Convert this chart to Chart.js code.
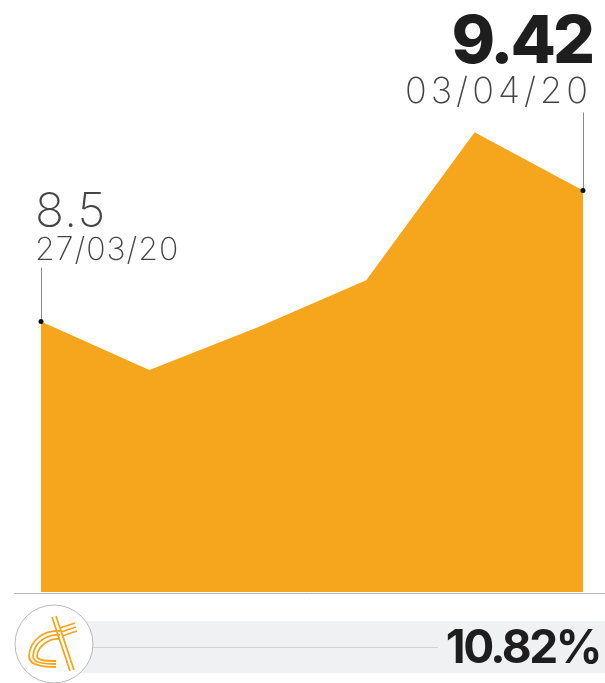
<!DOCTYPE html>
<html lang="en">
<head>
    <meta charset="UTF-8">
    <title>Price Chart</title>
    <script src="https://cdn.jsdelivr.net/npm/chart.js"></script>
    <style>
        body { margin: 0; background: #fff; overflow: hidden; }
        #wrap { position: relative; width: 605px; height: 683px; overflow: hidden; }
        #footer { position: absolute; left: 0; top: 600px; width: 605px; height: 83px; }
        #band { position: absolute; left: 80px; top: 21px; width: 525px; height: 52px; background: #f0f1f3; }
        #rule { position: absolute; left: 90px; top: 47px; width: 348px; height: 1px; background: #d2d3d5; }
        #change { position: absolute; right: 5px; top: 23px; font: 700 46px/46px Inter, "DejaVu Sans", sans-serif; color: #1e1e1e; letter-spacing: -2.5px; }
        #logo { position: absolute; left: 14px; top: 4px; }
    </style>
</head>
<body>
<div id="wrap">
    <canvas id="priceChart"></canvas>
    <div id="footer">
        <div id="band"></div>
        <div id="rule"></div>
        <svg id="logo" width="82" height="82" viewBox="0 0 82 82">
            <circle cx="40" cy="40" r="39" fill="#fff" stroke="#b8b8b8" stroke-width="1"/>
            <g fill="none" stroke="#f6a61d" stroke-width="1.8">
                <path d="M46 27 C30 26 16 36 15 52 C15 60 24 63 42 63"/>
                <path d="M46 31 C33 30 20 38 19 52 C19 58 26 60 42 60"/>
                <path d="M46 35 C36 34 24 41 23 52 C23 56 29 57 42 57"/>
                <path d="M38 13 L56 67"/>
                <path d="M42 12 L60 66"/>
                <path d="M46 24 L61 19"/>
                <path d="M47 28 L62 23"/>
                <path d="M48 32 L63 27"/>
            </g>
        </svg>
        <div id="change">10.82%</div>
    </div>
</div>
<script>
    const dates = ['27/03/20', '30/03/20', '31/03/20', '01/04/20', '02/04/20', '03/04/20'];
    const prices = [8.5, 8.16, 8.46, 8.79, 9.83, 9.42];
    const yMin = 6.6;
    const yMax = 10.0;

    const orange = '#f6a61d';

    // draws the baseline, the first/last markers and their labels
    const markers = {
        id: 'markers',
        afterDatasetsDraw(chart) {
            const ctx = chart.ctx;
            const meta = chart.getDatasetMeta(0);
            const area = chart.chartArea;
            ctx.save();

            ctx.strokeStyle = '#b5b5b5';
            ctx.lineWidth = 1;
            ctx.beginPath();
            ctx.moveTo(14, area.bottom + 1.5);
            ctx.lineTo(605, area.bottom + 1.5);
            ctx.stroke();

            const first = meta.data[0];
            const last = meta.data[meta.data.length - 1];

            ctx.strokeStyle = '#8a8a8a';
            ctx.beginPath();
            ctx.moveTo(Math.round(first.x) + 0.5, first.y - 54);
            ctx.lineTo(Math.round(first.x) + 0.5, first.y);
            ctx.moveTo(Math.round(last.x) + 0.5, last.y - 78);
            ctx.lineTo(Math.round(last.x) + 0.5, last.y);
            ctx.stroke();

            ctx.fillStyle = '#111';
            [first, last].forEach(p => {
                ctx.beginPath();
                ctx.arc(p.x, p.y, 2.5, 0, Math.PI * 2);
                ctx.fill();
            });

            ctx.textBaseline = 'alphabetic';
            ctx.fillStyle = '#444';
            ctx.textAlign = 'left';
            ctx.letterSpacing = '1px';
            ctx.font = '200 48px Inter, sans-serif';
            ctx.fillText(String(prices[0]), first.x - 6, first.y - 95);
            ctx.font = '200 32px Inter, sans-serif';
            ctx.fillText(dates[0], first.x - 6, first.y - 62);

            ctx.textAlign = 'right';
            ctx.fillStyle = '#1e1e1e';
            ctx.letterSpacing = '-3px';
            ctx.font = '800 66px Inter, sans-serif';
            ctx.fillText(prices[prices.length - 1].toFixed(2), last.x + 9, last.y - 128);
            ctx.fillStyle = '#444';
            ctx.letterSpacing = '4px';
            ctx.font = '200 36px Inter, sans-serif';
            ctx.fillText(dates[dates.length - 1], last.x + 9, last.y - 88);

            ctx.restore();
        }
    };

    const ctx = document.getElementById('priceChart').getContext('2d');
    new Chart(ctx, {
        type: 'line',
        data: {
            labels: dates,
            datasets: [{
                data: prices,
                fill: 'start',
                backgroundColor: orange,
                borderWidth: 0,
                pointRadius: 0,
                tension: 0
            }]
        },
        options: {
            responsive: true,
            maintainAspectRatio: false,
            animation: false,
            layout: {
                padding: { left: 41, right: 22, top: 108, bottom: 91 }
            },
            scales: {
                x: { display: false, offset: false },
                y: { display: false, min: yMin, max: yMax }
            },
            plugins: {
                legend: { display: false },
                tooltip: { enabled: false }
            }
        },
        plugins: [markers]
    });
</script>
</body>
</html>
